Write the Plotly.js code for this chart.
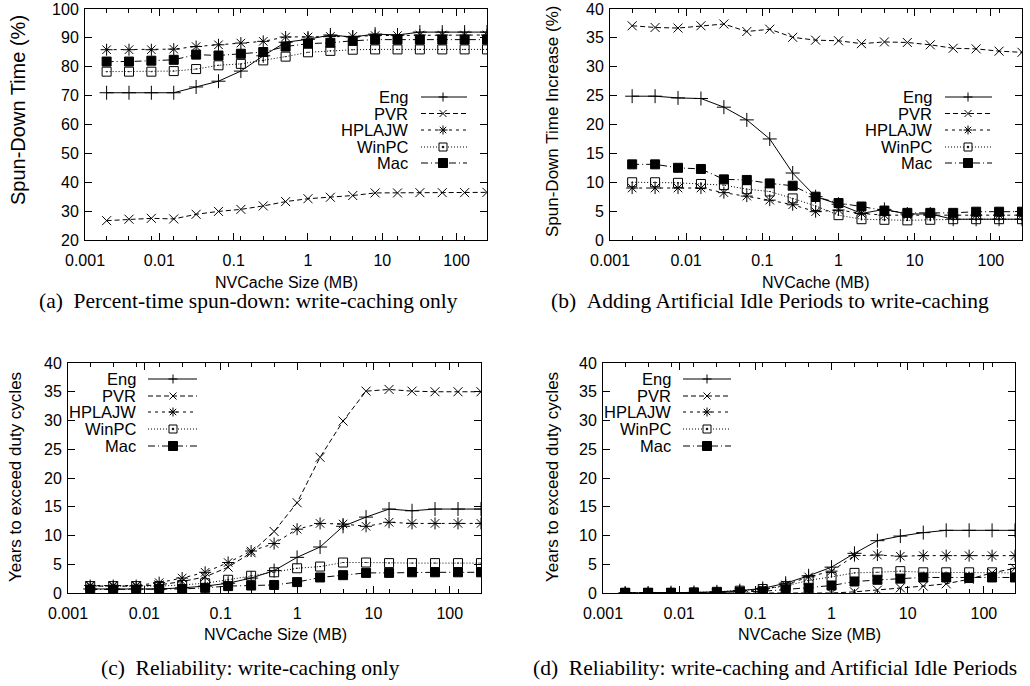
<!DOCTYPE html>
<html><head><meta charset="utf-8">
<script src="https://cdn.plot.ly/plotly-3.0.1.min.js"></script>
<style>html,body{margin:0;padding:0;background:#fff}#chart{width:1030px;height:686px}</style>
</head><body><div id="chart"></div>
<script>
// NVCache sizes (MB): 2 KB .. 256 MB
const cacheMB = [0.001953125,0.00390625,0.0078125,0.015625,0.03125,0.0625,0.125,0.25,0.5,1,2,4,8,16,32,64,128,256];
const seriesNames = ['Eng','PVR','HPLAJW','WinPC','Mac'];

// (a) Percent-time spun-down: write-caching only
const aEng    = [71,71,71,71,73,75,78.5,83.8,88.5,89.5,91,90.3,91.3,91,92,92,92,92];
const aPVR    = [26.7,27.2,27.5,27.3,28.9,29.9,30.6,31.8,33.3,34.3,34.8,35.4,36.3,36.3,36.4,36.4,36.4,36.5];
const aHPLAJW = [85.9,85.9,85.9,86.1,87,87.6,88.2,88.8,90.3,90.3,90.5,90.5,90.8,90.8,91,91,91,91];
const aWinPC  = [78.3,78.3,78.3,78.5,79.2,80.5,81,82.2,83.5,85,85.5,85.9,86,86,86,86,86,86];
const aMac    = [81.8,81.8,82.1,82.4,84.2,83.9,84.5,85.1,87,88,88.3,89,89.4,89.4,89.4,89.4,89.4,89.4];

// (b) Spun-down time increase with artificial idle periods
const bEng    = [24.9,24.9,24.6,24.5,23,20.8,17.5,11.6,7.5,6.2,4.6,5.3,4.5,4.5,3.6,3.6,3.6,3.6];
const bPVR    = [37.1,36.8,36.7,37.1,37.4,36.1,36.5,35.1,34.6,34.5,34,34.3,34.2,33.8,33.2,33.1,32.7,32.5];
const bHPLAJW = [9,9,9,9,8.2,7.6,6.9,6.1,4.9,5.2,4.6,4.3,4.3,4.3,4.3,4.3,4.3,4.3];
const bWinPC  = [10,10,9.9,9.7,9.5,8.8,8.4,7.2,5.9,4.3,3.6,3.5,3.4,3.5,3.6,3.6,3.6,3.6];
const bMac    = [13.1,13.1,12.5,12.3,10.5,10.4,9.8,9.4,7.5,6.4,5.8,5.1,4.7,4.7,4.7,4.9,4.9,4.9];

// (c) Years to exceed duty cycles: write-caching only
const cEng    = [0.7,0.7,0.7,0.7,0.9,1.2,1.7,2.6,3.9,6.2,8,11.6,13.2,14.6,14.3,14.6,14.6,14.6];
const cPVR    = [1.2,1.2,1.2,1.4,2,2.8,4.5,7,10.7,15.7,23.6,29.9,35.1,35.4,35.1,35,35,35];
const cHPLAJW = [1.3,1.3,1.3,1.8,2.6,3.6,5.3,7.3,8.6,11.1,12.1,12,11.6,12.3,12.1,12.1,12.1,12.1];
const cWinPC  = [1.2,1.2,1.2,1.2,1.4,1.7,2.3,3,3.6,4.3,4.6,5.3,5.3,5.2,5.2,5.2,5.2,5.2];
const cMac    = [0.6,0.6,0.6,0.7,0.7,0.9,1.2,1.3,1.4,1.9,2.7,3.1,3.5,3.5,3.6,3.6,3.6,3.6];

// (d) Years to exceed duty cycles: write-caching and artificial idle periods
const dEng    = [0,0,0.05,0.1,0.2,0.4,0.8,1.7,3,4.5,6.9,9.1,9.9,10.5,10.9,10.9,10.9,10.9];
const dPVR    = [0,0,0,0,0,0,0,0,0,0,0.2,0.5,0.9,1.2,1.6,2.4,3.5,4.3];
const dHPLAJW = [0.05,0.05,0.05,0.05,0.1,0.3,0.6,1.4,2.8,3.8,6.5,6.6,6.4,6.5,6.5,6.5,6.5,6.5];
const dWinPC  = [0,0,0,0.1,0.2,0.4,0.7,1.2,2.2,2.8,3.5,3.6,3.8,3.6,3.6,3.6,3.6,3.5];
const dMac    = [0.05,0.05,0.05,0.05,0.1,0.2,0.3,0.6,0.9,1.3,2,2.3,2.5,2.7,2.7,2.6,2.7,2.7];

const decadeTicks = [0.001,0.01,0.1,1,10,100];
const decadeLabels = ['0.001','0.01','0.1','1','10','100'];

const xTitles = ['NVCache Size (MB)','NVCache (MB)','NVCache Size (MB)','NVCache Size (MB)'];
const yTitles = ['Spun-Down Time (%)','Spun-Down Time Increase (%)','Years to exceed duty cycles','Years to exceed duty cycles'];
const captions = ['(a)\u00a0\u00a0Percent-time spun-down: write-caching only',
                  '(b)\u00a0\u00a0Adding Artificial Idle Periods to write-caching',
                  '(c)\u00a0\u00a0Reliability: write-caching only',
                  '(d)\u00a0\u00a0Reliability: write-caching and Artificial Idle Periods'];

const symbols = ['cross-thin-open','x-thin-open','asterisk-open','square-open-dot','square'];
const msizes  = [10,9,10,9,9];
const dashes  = ['solid','5px,3px','3px,4px','1px,2px','7px,3px,1px,3px'];

const W = 1030, H = 686;
const SANS = 'Liberation Sans, Arial, Helvetica, sans-serif';
const SERIF = 'Liberation Serif, Times New Roman, Times, serif';
const font = {family:SANS, size:16, color:'#000'};
const legFont = {family:SANS, size:16.5, color:'#000'};
const capFont = {family:SERIF, size:21.5, color:'#000'};

// panel geometry (pixels): plot box, title placements, key placement
const panels = [
  {data:[aEng,aPVR,aHPLAJW,aWinPC,aMac], xa:'x',  ya:'y',  box:[85,487,9,240],
   xt:[286,282], yt:[18,110,20], cap:[248,301],
   leg:{tx:410, l0:421, l1:467, mx:443, rows:[97,113.5,130,147,163]}},
  {data:[bEng,bPVR,bHPLAJW,bWinPC,bMac], xa:'x2', ya:'y2', box:[610,1022,9,240],
   xt:[816,282], yt:[552,122,17], cap:[770,301],
   leg:{tx:934, l0:945, l1:992, mx:968, rows:[97,113.5,130,147,163]}},
  {data:[cEng,cPVR,cHPLAJW,cWinPC,cMac], xa:'x3', ya:'y3', box:[68,481,363,593],
   xt:[275,634], yt:[15,477,17], cap:[250,668],
   leg:{tx:138, l0:148, l1:197, mx:173, rows:[379,396,412,429,446]}},
  {data:[dEng,dPVR,dHPLAJW,dWinPC,dMac], xa:'x4', ya:'y4', box:[603,1015,363,593],
   xt:[809,634], yt:[552,477,17], cap:[775,668],
   leg:{tx:673, l0:683, l1:731, mx:707, rows:[379,396,412,429,446]}}
];

const traces = [];
panels.forEach(p => {
  p.data.forEach((ys, i) => {
    traces.push({
      type:'scatter', mode:'lines+markers', x:cacheMB, y:ys, name:seriesNames[i],
      xaxis:p.xa, yaxis:p.ya, showlegend:false,
      line:{color:'#000', width:1, dash:dashes[i]},
      marker:{symbol:symbols[i], size:msizes[i], color:'#000', line:{color:'#000', width:1}}
    });
  });
});

const shapes = [], annotations = [];
const PX = x => x / W, PY = y => 1 - y / H;
function seg(x0,y0,x1,y1,dash){
  shapes.push({type:'line', xref:'paper', yref:'paper', x0:PX(x0), y0:PY(y0), x1:PX(x1), y1:PY(y1),
    line:{color:'#000', width:1, dash:dash||'solid'}, layer:'above'});
}
function sq(cx,cy,r,fill){
  shapes.push({type:'rect', xref:'paper', yref:'paper', x0:PX(cx-r), y0:PY(cy+r), x1:PX(cx+r), y1:PY(cy-r),
    line:{color:'#000', width:1}, fillcolor:fill, layer:'above'});
}
function note(text, x, y, f, opts){
  annotations.push(Object.assign({text:text, xref:'paper', yref:'paper', x:PX(x), y:PY(y),
    xanchor:'center', yanchor:'middle', showarrow:false, font:f}, opts||{}));
}

panels.forEach((p, k) => {
  // gnuplot-style key: label on the left, line sample + point on the right
  const g = p.leg;
  seriesNames.forEach((nm, i) => {
    const y = g.rows[i];
    note(nm, g.tx, y, legFont, {xanchor:'right'});
    seg(g.l0, y, g.l1, y, dashes[i]);
    const m = g.mx;
    if (i === 0) { seg(m-4.5,y,m+4.5,y); seg(m,y-4.5,m,y+4.5); }
    else if (i === 1) { seg(m-3.5,y-3.5,m+3.5,y+3.5); seg(m-3.5,y+3.5,m+3.5,y-3.5); }
    else if (i === 2) { seg(m-4.5,y,m+4.5,y); seg(m,y-4.5,m,y+4.5); seg(m-3.2,y-3.2,m+3.2,y+3.2); seg(m-3.2,y+3.2,m+3.2,y-3.2); }
    else if (i === 3) { sq(m,y,4,'#fff'); sq(m,y,0.7,'#000'); }
    else { sq(m,y,4.5,'#000'); }
  });
  note(xTitles[k], p.xt[0], p.xt[1], font);
  note(yTitles[k], p.yt[0], p.yt[1], Object.assign({}, font, {size:p.yt[2]}), {textangle:-90});
  note(captions[k], p.cap[0], p.cap[1], capFont);
});

function xaxis(b, anchor) {
  return {
    type:'log', domain:[b[0]/W, b[1]/W], anchor:anchor, range:[-3, Math.log10(256)],
    tickmode:'array', tickvals:decadeTicks, ticktext:decadeLabels,
    ticks:'inside', ticklen:7, tickwidth:1, tickcolor:'#000', ticklabelstandoff:6,
    minor:{tickmode:'array', tickvals:cacheMB, ticks:'inside', ticklen:4, tickwidth:1, tickcolor:'#000'},
    showline:true, linecolor:'#000', linewidth:1, mirror:'allticks',
    showgrid:false, zeroline:false, tickfont:font
  };
}
function yaxis(b, anchor, range, dtick) {
  return {
    domain:[1-b[3]/H, 1-b[2]/H], anchor:anchor, range:range, dtick:dtick, tick0:0,
    ticks:'inside', ticklen:7, tickwidth:1, tickcolor:'#000', ticklabelstandoff:2,
    showline:true, linecolor:'#000', linewidth:1, mirror:'allticks',
    showgrid:false, zeroline:false, tickfont:font
  };
}

const layout = {
  width:W, height:H, margin:{l:0, r:0, t:0, b:0},
  paper_bgcolor:'#fff', plot_bgcolor:'#fff', showlegend:false, font:font,
  xaxis:  xaxis(panels[0].box, 'y'),
  yaxis:  yaxis(panels[0].box, 'x',  [20,100], 10),
  xaxis2: xaxis(panels[1].box, 'y2'),
  yaxis2: yaxis(panels[1].box, 'x2', [0,40], 5),
  xaxis3: xaxis(panels[2].box, 'y3'),
  yaxis3: yaxis(panels[2].box, 'x3', [0,40], 5),
  xaxis4: xaxis(panels[3].box, 'y4'),
  yaxis4: yaxis(panels[3].box, 'x4', [0,40], 5),
  shapes:shapes,
  annotations:annotations
};

Plotly.newPlot('chart', traces, layout, {staticPlot:true, displayModeBar:false});
</script>
</body></html>
